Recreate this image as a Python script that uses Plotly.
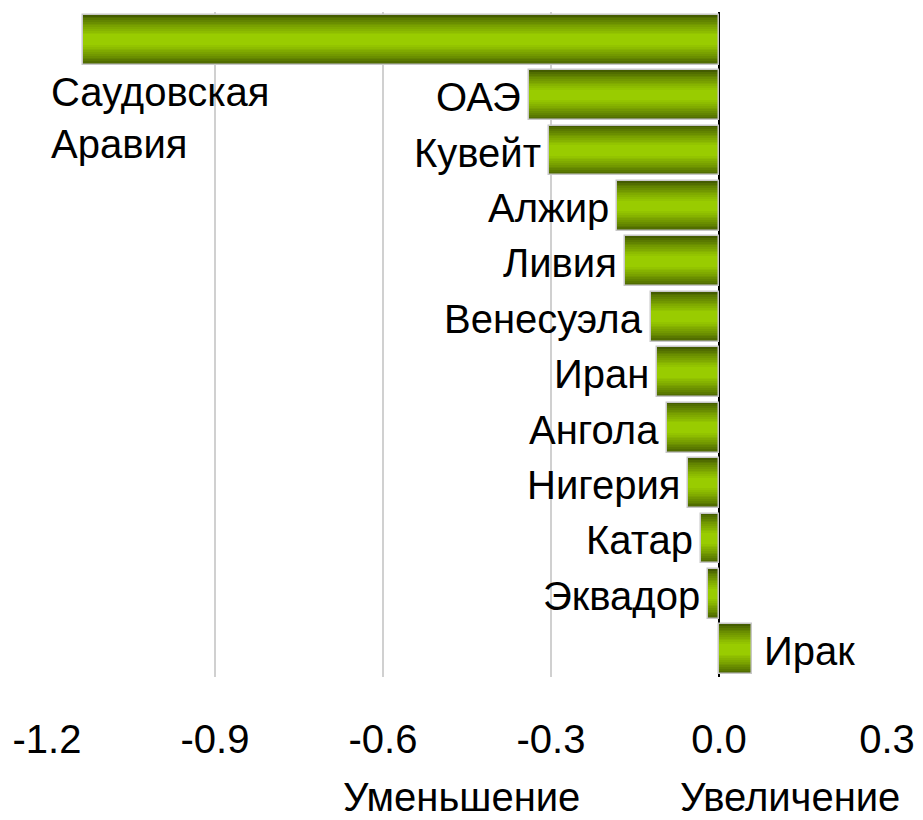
import plotly.graph_objects as go

countries = ["Саудовская<br>Аравия", "ОАЭ", "Кувейт", "Алжир", "Ливия", "Венесуэла",
             "Иран", "Ангола", "Нигерия", "Катар", "Эквадор", "Ирак"]
values = [-1.135, -0.340, -0.303, -0.182, -0.168, -0.122, -0.110, -0.092, -0.056, -0.032, -0.020, 0.059]
tick_vals = [-1.2, -0.9, -0.6, -0.3, 0.0, 0.3]
tick_text = ["-1.2", "-0.9", "-0.6", "-0.3", "0.0", "0.3"]
axis_titles = ["Уменьшение", "Увеличение"]

FONT = "Liberation Sans, Arial, sans-serif"
FS = 40
ypos = list(range(len(countries)))
BAR_W = 0.9

# gradient colours: dark edges -> bright centre
dark = (0x44, 0x5c, 0x00)
bright = (0x99, 0xcc, 0x00)
N = 14

def mix(t):
    return "rgb(%d,%d,%d)" % tuple(round(d + (b - d) * t) for d, b in zip(dark, bright))

fig = go.Figure()
for k in range(N):
    frac = 1 - k / N
    t = min(1.0, (k / (N - 1)) ** 0.8 * 1.15)
    fig.add_trace(go.Bar(
        y=ypos, x=values, orientation="h", width=BAR_W * frac,
        marker=dict(color=mix(t), line=dict(width=0)),
        hoverinfo="skip", showlegend=False,
    ))
# outline
fig.add_trace(go.Bar(
    y=ypos, x=values, orientation="h", width=BAR_W,
    marker=dict(color="rgba(0,0,0,0)", line=dict(color="#c8c8c8", width=1.5)),
    hoverinfo="skip", showlegend=False,
))

annotations = []
for i, (c, v) in enumerate(zip(countries, values)):
    if i == 0:
        annotations.append(dict(x=-1.2, y=i + 0.5, text=c, showarrow=False, xanchor="left",
                                yanchor="top", align="left", xshift=2, yshift=-1,
                                font=dict(family=FONT, size=FS, color="black")))
    elif v >= 0:
        annotations.append(dict(x=v, y=i, text=c, showarrow=False, xanchor="left",
                                xshift=10, yshift=-2,
                                font=dict(family=FONT, size=FS, color="black")))
    else:
        annotations.append(dict(x=v, y=i, text=c, showarrow=False, xanchor="right",
                                xshift=-6, yshift=-2,
                                font=dict(family=FONT, size=FS, color="black")))

W, H = 923, 820
ml, mr, mt, mb = 47, 36, 12, 143
title_px = [(461, 797), (790, 797)]
for txt, (px, py) in zip(axis_titles, title_px):
    annotations.append(dict(
        x=(px - ml) / (W - ml - mr), y=(H - mb - py) / (H - mt - mb),
        xref="paper", yref="paper", xanchor="center", yanchor="middle",
        text=txt, showarrow=False, font=dict(family=FONT, size=FS, color="black")))

fig.update_layout(
    width=W, height=H,
    margin=dict(l=ml, r=mr, t=mt, b=mb, autoexpand=False),
    plot_bgcolor="white", paper_bgcolor="white",
    barmode="overlay", bargap=0,
    annotations=annotations,
    xaxis=dict(range=[-1.2, 0.3], tickvals=tick_vals, ticktext=tick_text,
               showgrid=True, gridcolor="#d0d0d0", gridwidth=1.5,
               zeroline=True, zerolinecolor="black", zerolinewidth=2,
               showline=False, ticks="", ticklabelstandoff=35,
               tickfont=dict(family=FONT, size=FS, color="black")),
    yaxis=dict(range=[len(countries) - 0.5, -0.5], showticklabels=False,
               showgrid=False, zeroline=False, showline=False, ticks=""),
    font=dict(family=FONT),
)

fig.write_html("out.html", config={"displayModeBar": False},
               post_script="document.body.style.margin='0px';document.body.style.overflow='hidden';")
